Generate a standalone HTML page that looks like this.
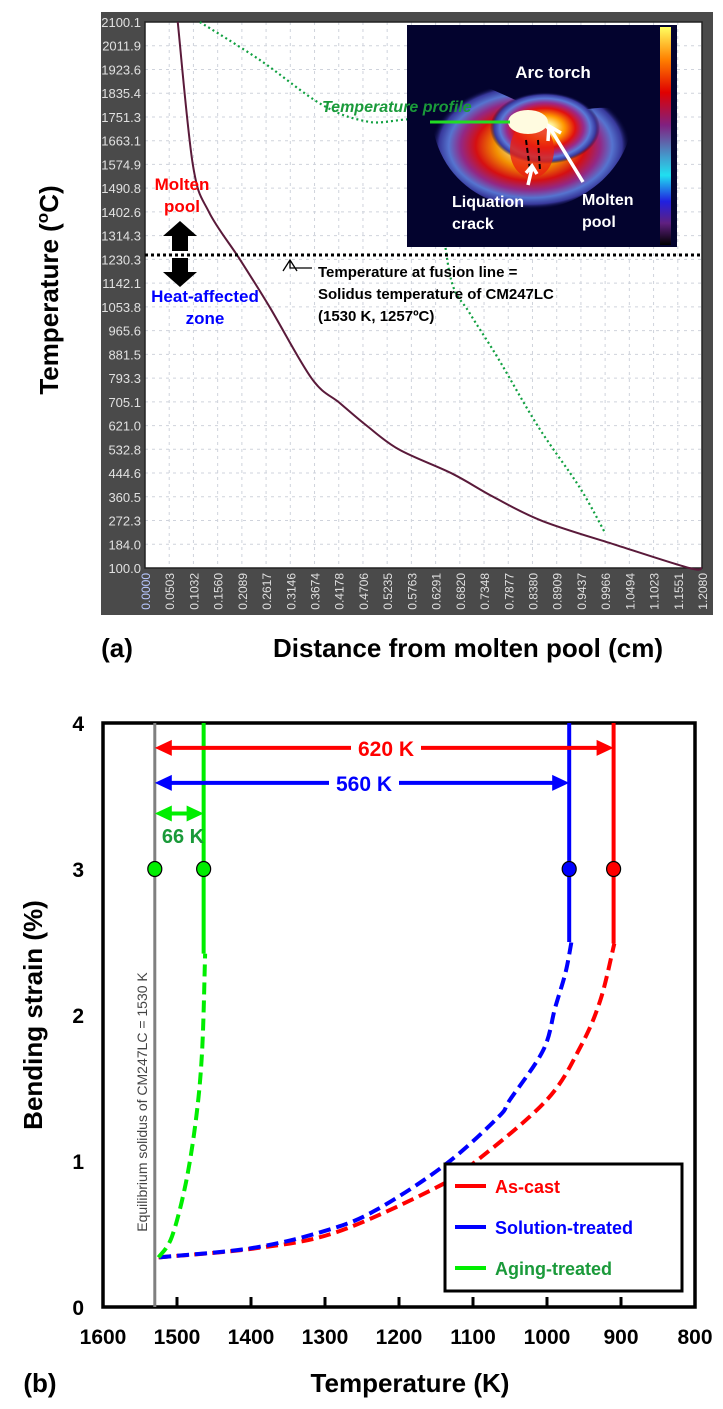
<!DOCTYPE html>
<html><head><meta charset="utf-8"><style>
html,body{margin:0;padding:0;background:#fff}
svg{display:block;font-family:"Liberation Sans",Arial,sans-serif}
</style></head><body>
<svg id="fig" width="723" height="1409" viewBox="0 0 723 1409" xmlns="http://www.w3.org/2000/svg">
<defs>
<radialGradient id="glow" cx="50%" cy="50%" r="50%">
<stop offset="0" stop-color="#ffffff"/><stop offset="0.15" stop-color="#fff6a0"/><stop offset="0.35" stop-color="#ff9a00"/><stop offset="0.55" stop-color="#e01010"/><stop offset="0.7" stop-color="#9a2a8a"/><stop offset="0.82" stop-color="#5a7ad8"/><stop offset="0.92" stop-color="#3a3aa0"/><stop offset="1" stop-color="#020230" stop-opacity="0"/>
</radialGradient>
<linearGradient id="cbar" x1="0" y1="0" x2="0" y2="1">
<stop offset="0" stop-color="#ffff60"/><stop offset="0.15" stop-color="#ff8000"/><stop offset="0.3" stop-color="#e00000"/><stop offset="0.45" stop-color="#802080"/><stop offset="0.6" stop-color="#40a0d0"/><stop offset="0.68" stop-color="#20e0f0"/><stop offset="0.8" stop-color="#2020e0"/><stop offset="0.9" stop-color="#602080"/><stop offset="1" stop-color="#000"/>
</linearGradient>
</defs>

<!-- ===== Chart (a) ===== -->
<g>
<rect x="101" y="12" width="612" height="603" fill="#4a4a4a"/>
<rect x="145" y="22" width="557" height="546" fill="#fff"/>
<g id="a-grid"></g>
<g id="a-yticks"></g>
<g id="a-xticks"></g>
<g id="a-series"></g>

<g>
<rect x="407" y="25" width="270" height="222" fill="#03032e"/>
<path d="M432,88 C470,70 500,96 535,108 C575,118 600,100 625,112 C640,130 620,170 590,190 C560,212 520,215 490,200 C455,185 425,150 432,88 Z" fill="url(#glow)" opacity="0.95"/>
<ellipse cx="545" cy="128" rx="55" ry="36" fill="url(#glow)"/>
<ellipse cx="532" cy="150" rx="22" ry="28" fill="#e82010" opacity="0.8"/>
<ellipse cx="528" cy="122" rx="20" ry="12" fill="#fffbe0"/>
<path d="M526,140 L530,170 M538,140 L540,170" stroke="#000" stroke-width="2" stroke-dasharray="5,3"/>
<rect x="660" y="27" width="11" height="218" fill="url(#cbar)"/>
<text x="553" y="78" fill="#fff" font-size="17" font-weight="bold" text-anchor="middle">Arc torch</text>
<text x="452" y="207" fill="#fff" font-size="16" font-weight="bold">Liquation</text>
<text x="452" y="229" fill="#fff" font-size="16" font-weight="bold">crack</text>
<text x="582" y="205" fill="#fff" font-size="16" font-weight="bold">Molten</text>
<text x="582" y="227" fill="#fff" font-size="16" font-weight="bold">pool</text>
<path d="M528,185 L532,168 M526,173 L532,166 L537,174" stroke="#fff" stroke-width="3.5" fill="none"/>
<path d="M583,182 L550,128 M548,141 L549,126 L561,133" stroke="#fff" stroke-width="3.5" fill="none"/>
</g>
<line x1="430" y1="122" x2="510" y2="122" stroke="#22dd22" stroke-width="3"/>
<text x="322" y="112" fill="#1a9a3a" font-size="16" font-weight="bold" font-style="italic">Temperature profile</text>

<line x1="145" y1="255" x2="702" y2="255" stroke="#000" stroke-width="3" stroke-dasharray="3,3"/>
<path d="M283,271 L290,260 L297,271 M290,260 L290,268 L312,268" stroke="#000" stroke-width="1.3" fill="none"/>
<text font-size="15" font-weight="bold"><tspan x="318" y="277">Temperature at fusion line =</tspan><tspan x="318" y="299">Solidus temperature of CM247LC</tspan><tspan x="318" y="321">(1530 K, 1257ºC)</tspan></text>
<text x="182" y="190" fill="#ff0000" font-size="17" font-weight="bold" text-anchor="middle">Molten</text>
<text x="182" y="212" fill="#ff0000" font-size="17" font-weight="bold" text-anchor="middle">pool</text>
<path d="M180,221 L197,236 L188,236 L188,251 L172,251 L172,236 L163,236 Z" fill="#000"/>
<path d="M180,287 L197,272 L188,272 L188,258 L172,258 L172,272 L163,272 Z" fill="#000"/>
<text x="205" y="302" fill="#0000ff" font-size="17" font-weight="bold" text-anchor="middle">Heat-affected</text>
<text x="205" y="324" fill="#0000ff" font-size="17" font-weight="bold" text-anchor="middle">zone</text>
<text transform="translate(58,290) rotate(-90)" font-size="26" font-weight="bold" text-anchor="middle">Temperature (<tspan font-size="17" dy="-10">o</tspan><tspan dy="10">C)</tspan></text>
<text x="117" y="657" font-size="26" font-weight="bold" text-anchor="middle">(a)</text>
<text x="468" y="657" font-size="26" font-weight="bold" text-anchor="middle">Distance from molten pool (cm)</text>
</g>

<!-- ===== Chart (b) ===== -->
<g>
<rect x="103" y="723" width="592" height="584" fill="none" stroke="#000" stroke-width="3.5"/>
<g id="b-axes"></g>
<g id="b-series"></g>
<g>
<rect x="445" y="1164" width="237" height="127" fill="#fff" stroke="#000" stroke-width="3"/>
<g><line x1="455" y1="1186" x2="486" y2="1186" stroke="#ff0000" stroke-width="4"/><text x="495" y="1193" fill="#ff0000" font-size="18" font-weight="bold">As-cast</text></g>
<g><line x1="455" y1="1227" x2="486" y2="1227" stroke="#0000ff" stroke-width="4"/><text x="495" y="1234" fill="#0000ff" font-size="18" font-weight="bold">Solution-treated</text></g>
<g><line x1="455" y1="1268" x2="486" y2="1268" stroke="#00ee00" stroke-width="4"/><text x="495" y="1275" fill="#1a9a3a" font-size="18" font-weight="bold">Aging-treated</text></g>
</g>
<text transform="translate(42,1015) rotate(-90)" font-size="26" font-weight="bold" text-anchor="middle">Bending strain (%)</text>
<text x="40" y="1392" font-size="26" font-weight="bold" text-anchor="middle">(b)</text>
<text x="410" y="1392" font-size="26" font-weight="bold" text-anchor="middle">Temperature (K)</text>
</g>
</svg>
<script>
// ---------- Chart (a) data ----------
const aYTickLabels = ["2100.1","2011.9","1923.6","1835.4","1751.3","1663.1","1574.9","1490.8","1402.6","1314.3","1230.3","1142.1","1053.8","965.6","881.5","793.3","705.1","621.0","532.8","444.6","360.5","272.3","184.0","100.0"];
const aXTickLabels = ["0.0000","0.0503","0.1032","0.1560","0.2089","0.2617","0.3146","0.3674","0.4178","0.4706","0.5235","0.5763","0.6291","0.6820","0.7348","0.7877","0.8380","0.8909","0.9437","0.9966","1.0494","1.1023","1.1551","1.2080"];
const profileDist = [0.071,0.104,0.139,0.206,0.271,0.362,0.422,0.481,0.552,0.667,0.756,0.862,1.022,1.180,1.208];
const profileTemp = [2100,1575,1403,1230,1054,793,705,621,533,445,360,272,184,100,100];
const simDist = [0.119,0.249,0.385,0.487,0.617,0.639,0.664,0.704,0.764,0.853,0.942,0.998];
const simTemp = [2100,1961,1796,1734,1723,1448,1155,1034,873,617,397,228];

const NS="http://www.w3.org/2000/svg";
function mk(tag,attrs,parent){const e=document.createElementNS(NS,tag);for(const k in attrs)e.setAttribute(k,attrs[k]);parent.appendChild(e);return e;}
function smooth(pts){
  let d='M'+pts[0][0]+','+pts[0][1];
  for(let i=0;i<pts.length-1;i++){
    const p0=pts[Math.max(0,i-1)],p1=pts[i],p2=pts[i+1],p3=pts[Math.min(pts.length-1,i+2)];
    const c1x=p1[0]+(p2[0]-p0[0])/6,c1y=p1[1]+(p2[1]-p0[1])/6;
    const c2x=p2[0]-(p3[0]-p1[0])/6,c2y=p2[1]-(p3[1]-p1[1])/6;
    d+=` C${c1x},${c1y} ${c2x},${c2y} ${p2[0]},${p2[1]}`;
  }
  return d;
}
const aX0=145,aX1=702,aY0=568,aY1=22;
const ax=d=>aX0+(d-0)/(1.208-0)*(aX1-aX0);
const ay=t=>aY0-(t-100)/(2100.1-100)*(aY0-aY1);

const grid=document.getElementById('a-grid');
const yt=document.getElementById('a-yticks');
aYTickLabels.forEach((lab,i)=>{
  const y=aY1+i*(aY0-aY1)/(aYTickLabels.length-1);
  if(i>0&&i<aYTickLabels.length-1){const g=mk('line',{x1:aX0,x2:aX1,y1:y,y2:y,stroke:'#cfd3dc','stroke-width':1,'stroke-dasharray':'3,4'},grid);
  
  }
  const t=mk('text',{x:141,y:y+5,'font-size':13,fill:'#e0e0e0','text-anchor':'end'},yt);
  t.textContent=lab;
  
  
});
const xt=document.getElementById('a-xticks');
aXTickLabels.forEach((lab,i)=>{
  const x=aX0+i*(aX1-aX0)/(aXTickLabels.length-1);
  if(i>0&&i<aXTickLabels.length-1){const g=mk('line',{x1:x,x2:x,y1:aY1,y2:aY0,stroke:'#cfd3dc','stroke-width':1,'stroke-dasharray':'3,4'},grid);
  
  }
  const t=mk('text',{transform:`translate(${x+5},${aY0+5}) rotate(-90)`,'font-size':12,fill:i==0?'#b8c8ff':'#e0e0e0','text-anchor':'end'},xt);
  t.textContent=lab;
  
  
});
mk('rect',{x:aX0,y:aY1,width:aX1-aX0,height:aY0-aY1,fill:'none',stroke:'#222','stroke-width':1.5},grid);
const as=document.getElementById('a-series');
const p1=mk('path',{d:smooth(profileDist.map((d,i)=>[ax(d),ay(profileTemp[i])])),fill:'none',stroke:'#5a1a3a','stroke-width':2},as);


const p2=mk('path',{d:smooth(simDist.map((d,i)=>[ax(d),ay(simTemp[i])])),fill:'none',stroke:'#10a040','stroke-width':2.2,'stroke-dasharray':'2,3'},as);



// ---------- Chart (b) data ----------
const bXTicks = [1600,1500,1400,1300,1200,1100,1000,900,800];
const bYTicks = [0,1,2,3,4];
const castT = [1525,1397,1286,1149,1093,1000,955,928,909];
const castS = [0.34,0.40,0.51,0.82,1.01,1.42,1.78,2.10,2.49];
const solT = [1524,1397,1297,1231,1138,1066,1050,1005,989,975,967];
const solS = [0.34,0.405,0.526,0.664,0.973,1.30,1.42,1.76,2.05,2.29,2.5];
const ageT = [1525,1507,1488,1474,1466,1462];
const ageS = [0.34,0.48,0.85,1.30,1.76,2.42];
const critT = [910,970,1464];
const critNames = ["as-cast","solution-treated","aging-treated"];
const critColors = ["#ff0000","#0000ff","#00ee00"];
const solidusT = 1530;
const markerStrain = 3;
const rangeLabels = ["620 K","560 K","66 K"];
const rangeStrain = [3.83,3.59,3.38];

const bX0=103,bX1=695,bY0=1307,bY1=723;
const bx=t=>bX0+(1600-t)/(1600-800)*(bX1-bX0);
const by=s=>bY0-s/4*(bY0-bY1);
const axes=document.getElementById('b-axes');
bXTicks.forEach(t=>{
  const x=bx(t);
  if(t<1600&&t>800){const l=mk('line',{x1:x,x2:x,y1:bY0,y2:bY0-10,stroke:'#000','stroke-width':3},axes);
  
  }
  const tx=mk('text',{x:x,y:1344,'font-size':21,'font-weight':'bold','text-anchor':'middle'},axes);
  tx.textContent=t;
  
  
});
bYTicks.forEach(s=>{
  const tx=mk('text',{x:84,y:by(s)+8,'font-size':21,'font-weight':'bold','text-anchor':'end'},axes);
  tx.textContent=s;
  
  
});
const bs=document.getElementById('b-series');
const sl=mk('line',{x1:bx(solidusT),x2:bx(solidusT),y1:bY1,y2:bY0,stroke:'#808080','stroke-width':3},bs);


const st=mk('text',{transform:`translate(${bx(solidusT)-8},1102) rotate(-90)`,'font-size':14,fill:'#444','text-anchor':'middle'},bs);
st.textContent='Equilibrium solidus of CM247LC = 1530 K';


function dashed(T,S,color,name){
  const p=mk('path',{d:smooth(T.map((t,i)=>[bx(t),by(S[i])])),fill:'none',stroke:color,'stroke-width':4,'stroke-dasharray':'12,6'},bs);
  
  
}
dashed(castT,castS,'#ff0000','as-cast-curve');
dashed(solT,solS,'#0000ff','solution-treated-curve');
dashed(ageT,ageS,'#00ee00','aging-treated-curve');
const ends=[castS[castS.length-1],solS[solS.length-1],ageS[ageS.length-1]];
critT.forEach((t,i)=>{
  const v=mk('line',{x1:bx(t),x2:bx(t),y1:bY1,y2:by(ends[i]),stroke:critColors[i],'stroke-width':4},bs);
  
  
});
[[solidusT,'#00ee00'],[critT[2],'#00ee00'],[critT[1],'#0000ff'],[critT[0],'#ff0000']].forEach(([t,c])=>{
  const d=mk('ellipse',{cx:bx(t),cy:by(markerStrain),rx:7,ry:7.5,fill:c,stroke:'#000','stroke-width':1.2},bs);
  
  
});
function arrow(x1,x2,y,color){
  const g=mk('g',{},bs);
  
  
  mk('line',{x1:x1+12,x2:x2-12,y1:y,y2:y,stroke:color,'stroke-width':4},g);
  mk('path',{d:`M${x1},${y} L${x1+17},${y-8} L${x1+17},${y+8} Z`,fill:color},g);
  mk('path',{d:`M${x2},${y} L${x2-17},${y-8} L${x2-17},${y+8} Z`,fill:color},g);
  return g;
}
const xs=bx(solidusT);
arrow(xs,bx(critT[0]),by(rangeStrain[0]),'#ff0000');
arrow(xs,bx(critT[1]),by(rangeStrain[1]),'#0000ff');
arrow(xs,bx(critT[2]),by(rangeStrain[2]),'#00ee00');
[[0,'#ff0000',386],[1,'#0000ff',364]].forEach(([i,c,cx])=>{
  const w=70;
  mk('rect',{x:cx-w/2,y:by(rangeStrain[i])-12,width:w,height:24,fill:'#fff'},bs);
  const t=mk('text',{x:cx,y:by(rangeStrain[i])+8,'font-size':21,'font-weight':'bold',fill:c,'text-anchor':'middle'},bs);
  t.textContent=rangeLabels[i];
  
  
});
const g66=mk('text',{x:183,y:843,'font-size':20,'font-weight':'bold',fill:'#1a9a3a','text-anchor':'middle'},bs);
g66.textContent=rangeLabels[2];


</script>
</body></html>
